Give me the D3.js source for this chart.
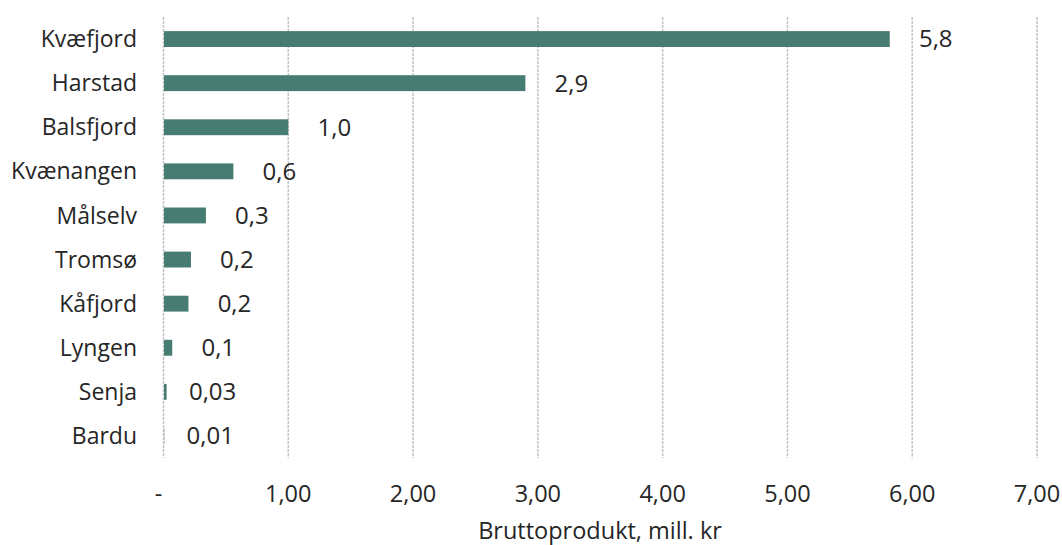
<!DOCTYPE html>
<html><head><meta charset="utf-8">
<script src="https://cdn.jsdelivr.net/npm/d3@7"></script>
<style>
body{margin:0;background:#fff;}
text{font-family:"Open Sans",Lato,sans-serif;fill:#262626;}
</style></head>
<body><svg id="c" width="1062" height="545"></svg>
<script>
const categories = ["Kvæfjord","Harstad","Balsfjord","Kvænangen","Målselv","Tromsø","Kåfjord","Lyngen","Senja","Bardu"];
const values = [5.82, 2.90, 1.00, 0.56, 0.34, 0.22, 0.20, 0.07, 0.025, 0.006];
const valueLabels = ["5,8","2,9","1,0","0,6","0,3","0,2","0,2","0,1","0,03","0,01"];
const xTicks = [0,1,2,3,4,5,6,7];
const xTickLabels = ["-","1,00","2,00","3,00","4,00","5,00","6,00","7,00"];
const axisTitle = "Bruttoprodukt, mill. kr";

const svg = d3.select("#c");
const x = d3.scaleLinear().domain([0,7]).range([163.5,1037]);
const y = d3.scaleBand().domain(categories).range([17,458]).paddingInner(0.64).paddingOuter(0.32);

// gridlines
svg.append("g").selectAll("line").data(xTicks).join("line")
  .attr("x1",d=>x(d)).attr("x2",d=>x(d)).attr("y1",17).attr("y2",458)
  .attr("stroke","#c4c4c4").attr("stroke-width",1.5).attr("stroke-dasharray","3,1");

// bars
svg.append("g").selectAll("rect").data(values).join("rect")
  .attr("x",x(0)+0.5).attr("y",(d,i)=>y(categories[i]))
  .attr("width",d=>Math.max(0,x(d)-x(0)-0.5)).attr("height",y.bandwidth())
  .attr("fill","#467c72");

// value labels
svg.append("g").selectAll("text").data(values).join("text")
  .attr("x",d=>x(d)+46).attr("y",(d,i)=>y(categories[i])+y.bandwidth()/2)
  .attr("dy","0.35em").attr("text-anchor","middle").attr("font-size",24)
  .text((d,i)=>valueLabels[i]);

// category labels
svg.append("g").selectAll("text").data(categories).join("text")
  .attr("x",137).attr("y",d=>y(d)+y.bandwidth()/2)
  .attr("dy","0.35em").attr("text-anchor","end").attr("font-size",23)
  .text(d=>d);

// x tick labels
svg.append("g").selectAll("text").data(xTicks).join("text")
  .attr("x",(d,i)=>i===0?x(d)-5:x(d)).attr("y",494)
  .attr("dy","0.35em").attr("text-anchor","middle").attr("font-size",23.5)
  .text((d,i)=>xTickLabels[i]);

svg.append("text").attr("x",600).attr("y",531).attr("dy","0.35em")
  .attr("text-anchor","middle").attr("font-size",23.5).text(axisTitle);
</script></body></html>
